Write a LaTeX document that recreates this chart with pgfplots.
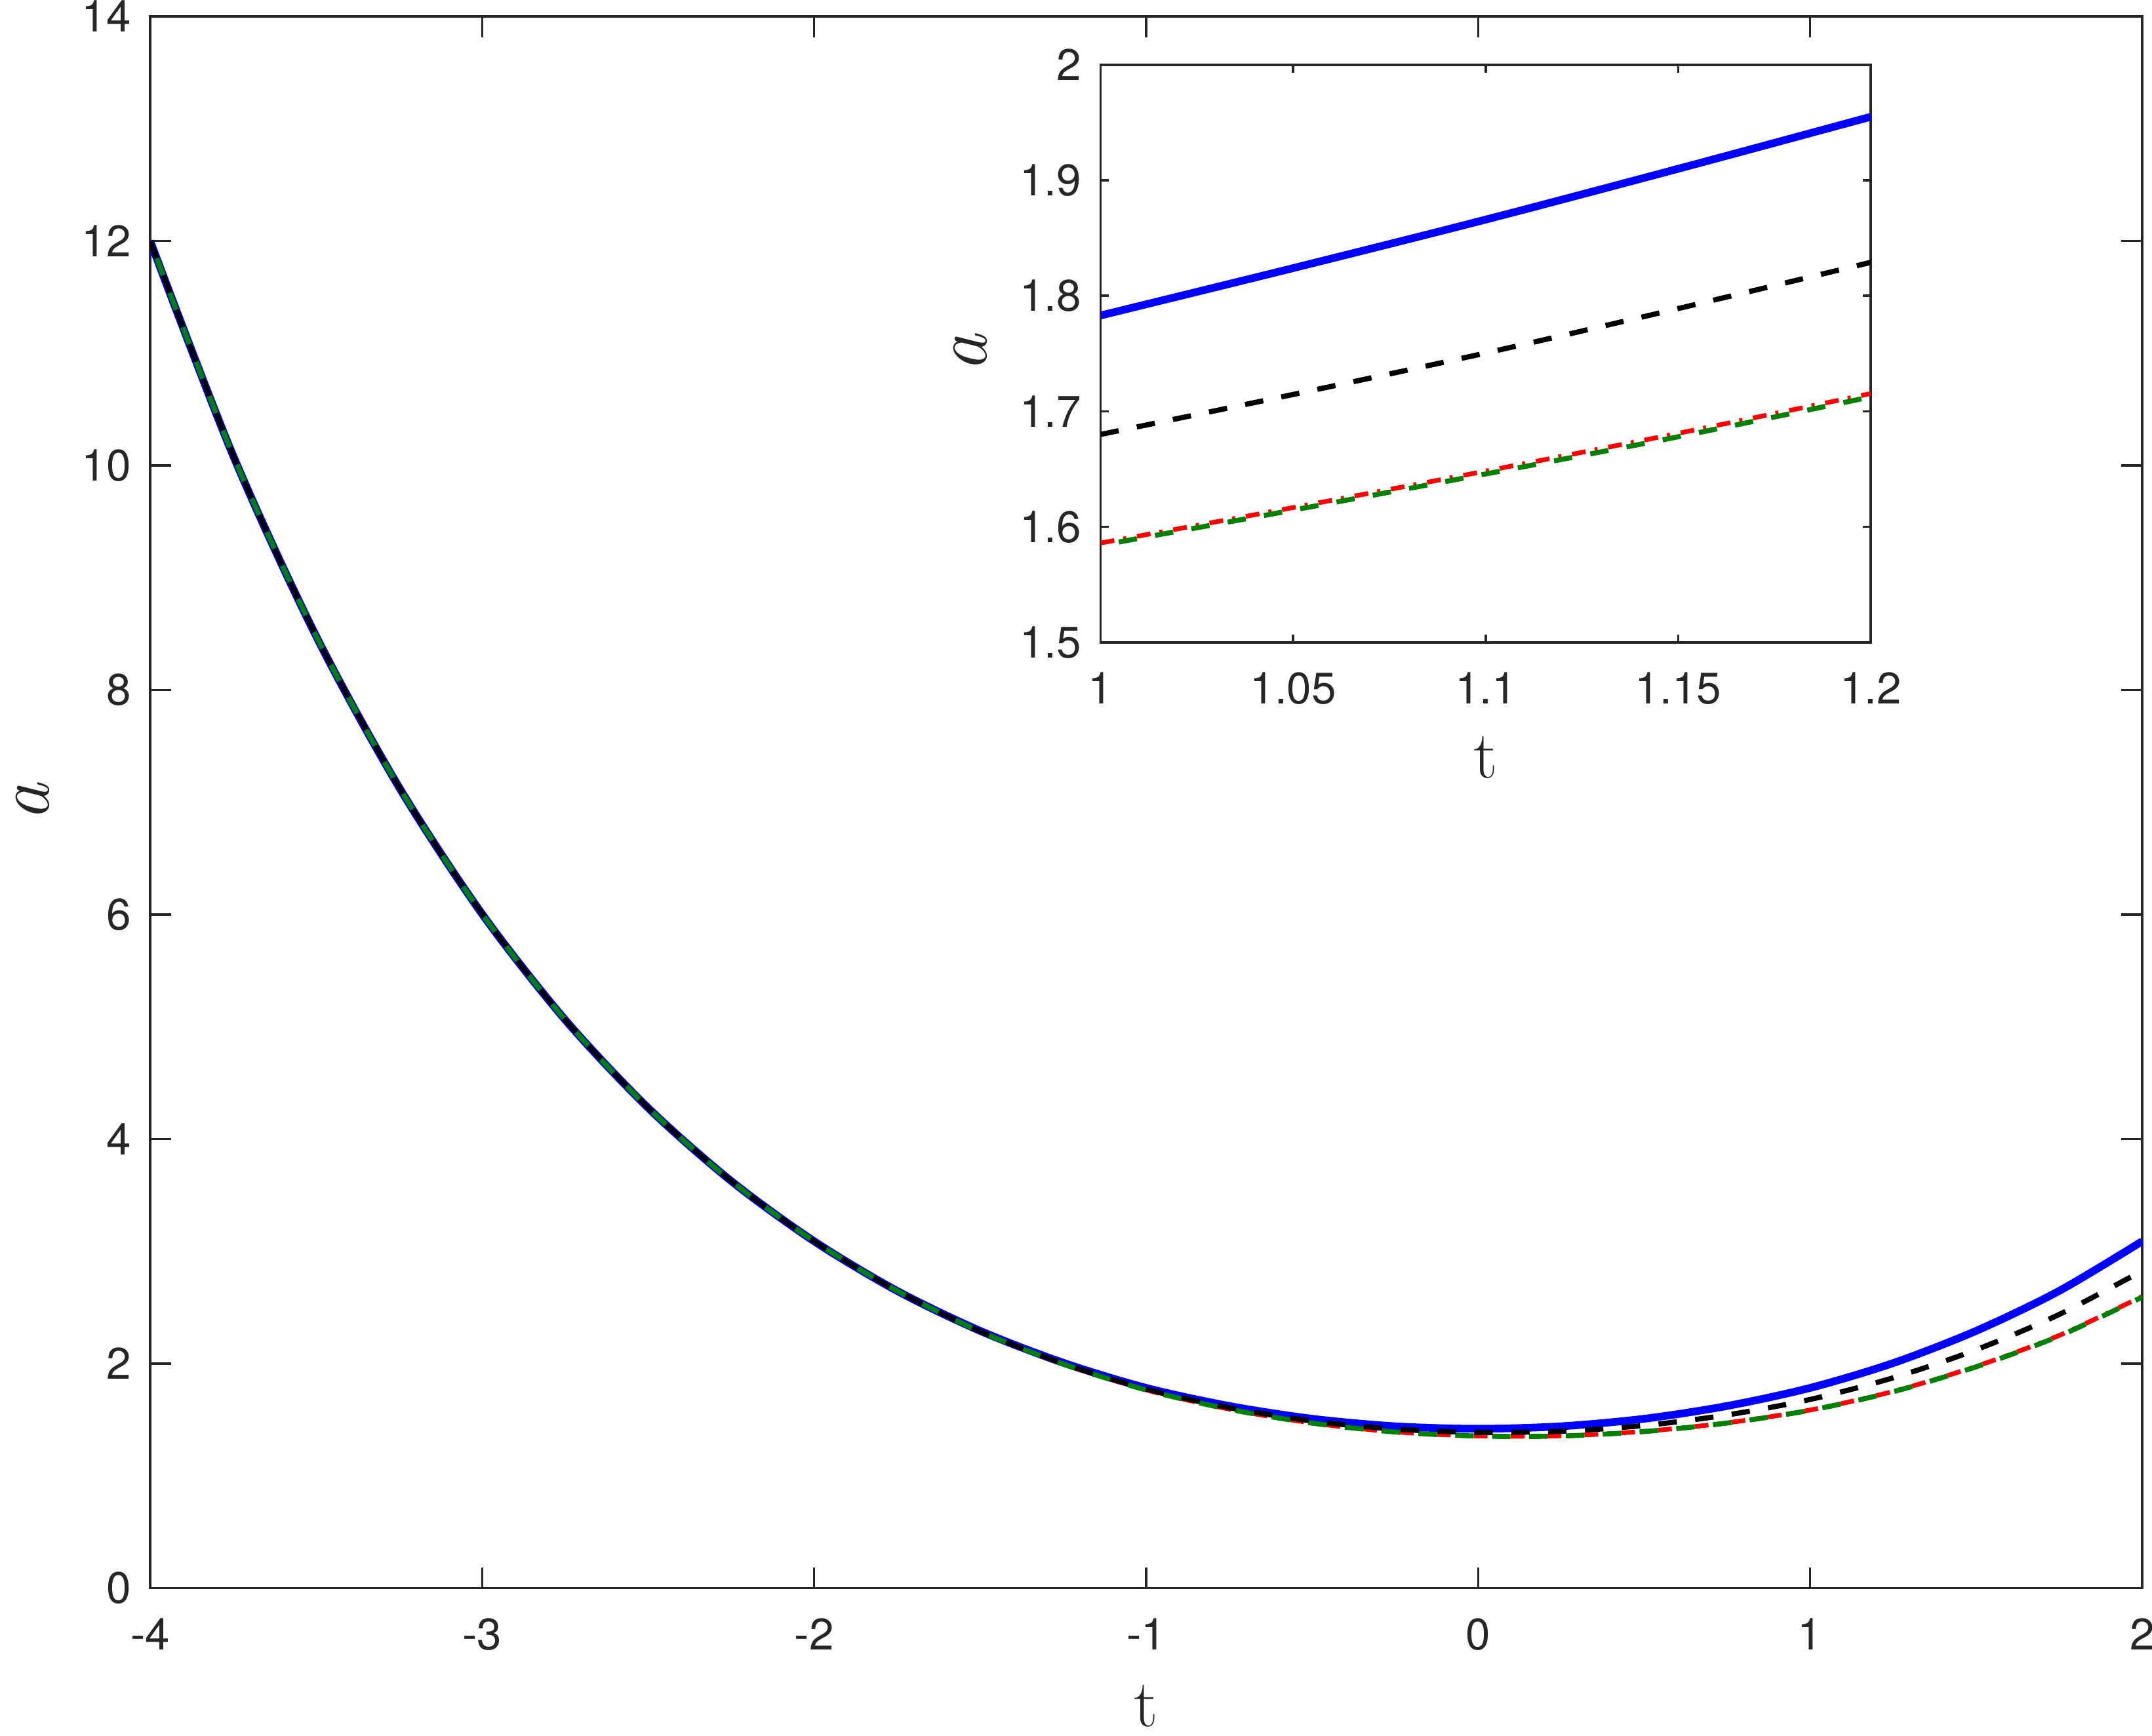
\documentclass[border=0pt]{standalone}
\usepackage{fontspec}
\usepackage{pgfplots}
\pgfplotsset{compat=1.18}
\usepackage{pgfplotstable}
\newfontfamily\ticksfont{TeX Gyre Heros}
\definecolor{axgray}{rgb}{0.15,0.15,0.15}
\definecolor{mgreen}{rgb}{0,0.5,0}

\pgfplotstableread{
t a
-4 12.00
-3.75 10.087
-3.5 8.479
-3.25 7.132
-3 6.004
-2.75 5.062
-2.5 4.277
-2.25 3.626
-2 3.089
-1.75 2.647
-1.5 2.291
-1.25 2.007
-1 1.783
-0.75 1.622
-0.5 1.508
-0.25 1.441
0 1.419
0.25 1.441
0.5 1.508
0.75 1.622
1 1.783
1.25 2.004
1.5 2.291
1.75 2.647
2 3.089
}\blueMain

\pgfplotstableread{
t a
-4 12.00
-3.75 10.087
-3.5 8.479
-3.25 7.132
-3 6.004
-2.75 5.062
-2.5 4.277
-2.25 3.626
-2 3.089
-1.75 2.647
-1.5 2.288
-1.25 2.001
-1 1.773
-0.75 1.607
-0.5 1.488
-0.25 1.416
0 1.387
0.25 1.397
0.5 1.448
0.75 1.542
1 1.680
1.25 1.873
1.5 2.123
1.75 2.437
2 2.826
}\blackMain

\pgfplotstableread{
t a
-4 12.00
-3.75 10.087
-3.5 8.479
-3.25 7.132
-3 6.004
-2.75 5.062
-2.5 4.277
-2.25 3.626
-2 3.089
-1.75 2.647
-1.5 2.286
-1.25 1.997
-1 1.765
-0.75 1.594
-0.5 1.470
-0.25 1.391
0 1.355
0.25 1.356
0.5 1.396
0.75 1.472
1 1.586
1.25 1.752
1.5 1.975
1.75 2.250
2 2.598
}\redMain

\pgfplotstableread{
t a
-4 12.00
-3.75 10.087
-3.5 8.479
-3.25 7.132
-3 6.004
-2.75 5.062
-2.5 4.277
-2.25 3.626
-2 3.089
-1.75 2.647
-1.5 2.285
-1.25 1.996
-1 1.764
-0.75 1.593
-0.5 1.469
-0.25 1.390
0 1.354
0.25 1.3545
0.5 1.394
0.75 1.470
1 1.584
1.25 1.749
1.5 1.971
1.75 2.245
2 2.592
}\greenMain

\pgfplotstableread{
t blue black red green
1.00 1.783 1.680 1.586 1.584
1.05 1.824 1.7146 1.6167 1.6145
1.10 1.866 1.7505 1.6483 1.6458
1.15 1.910 1.789 1.681 1.678
1.20 1.955 1.829 1.7154 1.7125
}\insetData

\tikzset{
  bluestyle/.style={blue, line width=2pt},
  blackstyle/.style={black, line width=1.35pt, dash pattern=on 4.8pt off 4.8pt},
  redstyle/.style={red, line width=1.2pt, dash pattern=on 3.6pt off 2.4pt on 0.8pt off 2.8pt},
  greenstyle/.style={mgreen, line width=1.3pt, dash pattern=on 4.8pt off 4.8pt, dash phase=4.8pt},
}

\pgfplotsset{
  matlabaxis/.style={
    scale only axis,
    tick align=inside,
    axis line style={draw=axgray, line width=0.6pt},
    every tick/.style={draw=axgray, line width=0.6pt},
    tick label style={font=\ticksfont\fontsize{11.5}{13}\selectfont, text=axgray},
    xticklabel style={yshift=-4.3pt},
    yticklabel style={xshift=-1.5pt},
    xlabel style={font=\fontsize{17.5}{20}\selectfont, text=axgray, inner sep=0pt},
    ylabel style={font=\fontsize{19.5}{22}\selectfont, text=axgray, inner sep=0pt},
    minor tick num=0,
  }
}

\begin{document}
\begin{tikzpicture}
\begin{axis}[
  matlabaxis,
  at={(0pt,0pt)}, anchor=south west,
  width=518.3pt, height=409pt,
  xmin=-4, xmax=2, ymin=0, ymax=14,
  xtick={-4,-3,-2,-1,0,1,2}, xticklabels={-4,-3,-2,-1,0,1,2},
  ytick={0,2,4,6,8,10,12,14}, yticklabels={0,2,4,6,8,10,12,14},
  major tick length=5.4pt,
  xlabel={t}, ylabel={\itshape a},
  xlabel style={at={(axis description cs:0.5,-0.0750)}, anchor=center},
  ylabel style={at={(axis description cs:-0.0590,0.5)}, anchor=center},
]
\addplot[bluestyle, smooth] table[x=t, y=a] {\blueMain};
\addplot[redstyle, smooth] table[x=t, y=a] {\redMain};
\addplot[greenstyle, smooth] table[x=t, y=a] {\greenMain};
\addplot[blackstyle, smooth] table[x=t, y=a] {\blackMain};
\end{axis}

\begin{axis}[
  matlabaxis,
  at={(247.3pt,246.1pt)}, anchor=south west,
  width=200.4pt, height=150.3pt,
  xmin=1, xmax=1.2, ymin=1.5, ymax=2,
  xtick={1,1.05,1.1,1.15,1.2}, xticklabels={1,1.05,1.1,1.15,1.2},
  ytick={1.5,1.6,1.7,1.8,1.9,2}, yticklabels={1.5,1.6,1.7,1.8,1.9,2},
  major tick length=2.1pt,
  axis background/.style={fill=white},
  xlabel={t}, ylabel={\itshape a},
  xlabel style={at={(axis description cs:0.5,-0.1996)}, anchor=center},
  ylabel style={at={(axis description cs:-0.169,0.5)}, anchor=center},
]
\addplot[bluestyle, smooth] table[x=t, y=blue] {\insetData};
\addplot[redstyle, smooth] table[x=t, y=red] {\insetData};
\addplot[greenstyle, smooth] table[x=t, y=green] {\insetData};
\addplot[blackstyle, smooth] table[x=t, y=black] {\insetData};
\end{axis}
\pgfresetboundingbox
\useasboundingbox (-39.07pt,-38.4pt) rectangle (520.86pt,413.27pt);
\end{tikzpicture}
\end{document}
